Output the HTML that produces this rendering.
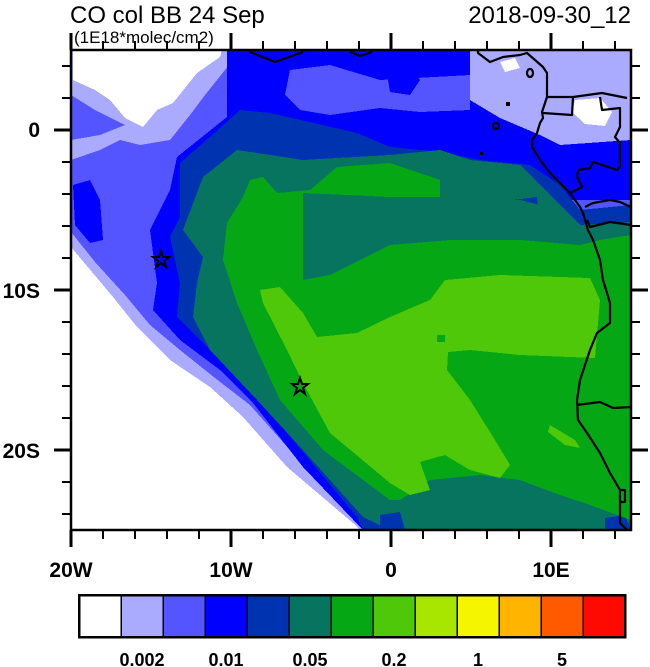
<!DOCTYPE html>
<html><head><meta charset="utf-8"><style>
html,body{margin:0;padding:0;background:#fff;}
svg{display:block;font-family:"Liberation Sans",sans-serif;}
</style></head><body>
<svg width="650" height="667" viewBox="0 0 650 667" xmlns="http://www.w3.org/2000/svg">
<defs><clipPath id="c"><rect x="71" y="50" width="560" height="480"/></clipPath></defs>
<g clip-path="url(#c)" shape-rendering="crispEdges">
<rect x="71" y="50" width="560" height="480" fill="#5555ff"/>
<polygon fill="#aaaaff" points="470,50 631,50 631,140 560,145 540,135 500,118 470,100"/>
<polygon fill="#fff" points="575,100 600,98 612,112 605,126 585,124 572,112"/>
<polygon fill="#fff" points="500,62 515,58 520,68 505,72"/>
<polygon fill="#aaaaff" points="71,50 240,50 225,70 205,95 190,115 170,140 140,145 120,140 100,150 71,160"/>
<polygon fill="#5555ff" points="71,95 95,110 125,125 100,135 71,140"/>
<polygon fill="#fff" points="73,50 222,50 220,57 197,73 173,103 157,110 143,127 125,118 110,100 95,90 73,80"/>
<polygon fill="#aaaaff" points="71,232 95,262 125,295 150,325 180,350 215,378 250,405 290,450 330,490 370,530 71,530"/>
<polygon fill="#fff" points="71,247 113,297 137,327 170,360 210,387 243,417 287,467 353,523 360,530 71,530"/>
<polygon fill="#0000ff" points="227,50 470,50 470,100 500,118 540,135 560,145 631,140 631,200 560,200 530,180 390,175 300,170 230,180 203,230 200,300 240,370 290,430 340,490 380,530 363,530 303,467 253,403 220,370 180,340 153,310 157,283 150,230 170,190 177,157 227,117"/>
<polygon fill="#5555ff" points="290,70 330,65 380,80 470,75 470,110 420,112 380,108 330,115 300,110 285,95"/>
<polygon fill="#0000ff" points="385,62 405,60 420,80 410,95 390,92"/>
<polygon fill="#0000ff" points="73,185 90,180 100,200 103,240 90,243 75,225"/>
<polygon fill="#0033b0" points="240,110 270,113 357,133 390,147 440,152 480,160 530,165 560,185 580,210 631,205 631,240 560,240 500,220 390,200 300,195 230,210 215,260 220,300 250,360 300,420 350,480 390,530 363,530 357,517 287,433 243,380 203,343 177,317 180,283 170,237 180,217 180,163 210,137"/>
<polygon fill="#06745f" points="237,150 303,160 390,155 440,150 470,160 520,165 545,190 570,215 580,225 631,222 631,530 390,530 363,517 303,450 257,400 210,350 193,317 197,283 203,257 183,230 203,177"/>
<polygon fill="#0033b0" points="513,200 537,197 540,225 520,228"/>
<polygon fill="#0033b0" points="380,515 400,512 405,530 380,530"/>
<polygon fill="#0033b0" points="605,518 625,515 631,530 605,530"/>
<polygon fill="#05a814" points="250,180 263,177 277,193 310,190 337,167 390,163 440,180 440,197 390,200 303,195 303,280 390,245 450,240 520,240 580,245 600,240 631,235 631,520 590,505 560,495 520,480 480,475 430,480 400,500 390,500 323,450 280,400 257,350 237,303 223,260 227,223 243,197"/>
<polygon fill="#06745f" points="303,193 390,197 440,197 520,200 560,210 590,240 520,240 450,240 390,245 330,275 303,280"/>
<polygon fill="#50c80a" points="260,290 280,287 303,313 317,337 357,333 390,317 430,300 445,280 500,275 590,278 600,300 595,358 520,355 470,350 448,352 447,370 470,400 495,440 510,465 500,478 470,470 445,455 420,462 430,490 410,495 390,483 330,433 303,383 287,350 263,303"/>
<polygon fill="#05a814" points="437,335 445,335 445,342 437,342"/>
<polygon fill="#50c80a" points="550,425 575,440 580,448 565,445 548,432"/>
</g>
<g fill="none" stroke="#000" stroke-width="2.2" stroke-linejoin="round" clip-path="url(#c)">
<polyline points="478,50 478,53 490,62 503,57 520,55 527,53 535,60 543,67 547,73 547,97 545,103 542,112 543,118 540,123 537,133 532,140 532,147 540,160 550,173 560,183 570,193 580,207 583,213 585,220 588,230 593,240 600,260 603,280 610,303 610,323 597,333 590,350 580,380 577,400 578,420 587,433 600,453 610,473 620,490 620,523 627,530"/>
<polyline points="547,97 573,97 572,115 543,113"/>
<polyline points="573,97 602,93 627,98"/>
<polyline points="600,97 602,110 620,108 620,127 615,137 620,143 620,167 617,170 593,162 590,168 578,170 577,177 582,187 570,193"/>
<polyline points="585,207 593,203 610,200 620,202 631,207"/>
<polyline points="587,220 590,227 610,222 631,225"/>
<polyline points="577,405 600,402 613,408 631,407"/>
<polyline points="620,490 625,490 625,502 620,502"/>
<polyline points="250,52 275,62 303,52"/>
<polyline points="350,52 360,56 372,52"/>
<ellipse cx="530" cy="73" rx="3" ry="4"/>
<ellipse cx="496" cy="126" rx="3" ry="3"/>
</g>
<rect x="506" y="102" width="4" height="4" fill="#000"/>
<rect x="480" y="152" width="3" height="3" fill="#000"/>
<g fill="none" stroke="#000" stroke-width="2">
<polygon points="161,251 163,257 169,257 164,261 166,267 161,263 156,267 158,261 153,257 159,257"/>
<polygon points="300,378 302,384 308,384 303,388 305,394 300,390 295,394 297,388 292,384 298,384"/>
</g>
<rect x="71" y="50" width="560" height="480" fill="none" stroke="#000" stroke-width="2.5"/>
<g stroke="#000" stroke-width="2">
<path d="M71,530v17M231,530v17M391,530v17M551,530v17M71,50v-17M231,50v-17M391,50v-17M551,50v-17M71,130h-17M71,290h-17M71,450h-17M631,130h17M631,290h17M631,450h17" stroke-width="3"/>
<path d="M103,530v9M135,530v9M167,530v9M199,530v9M263,530v9M295,530v9M327,530v9M359,530v9M423,530v9M455,530v9M487,530v9M519,530v9M583,530v9M615,530v9M103,50v-9M135,50v-9M167,50v-9M199,50v-9M263,50v-9M295,50v-9M327,50v-9M359,50v-9M423,50v-9M455,50v-9M487,50v-9M519,50v-9M583,50v-9M615,50v-9M71,66h-9M71,98h-9M71,162h-9M71,194h-9M71,226h-9M71,258h-9M71,322h-9M71,354h-9M71,386h-9M71,418h-9M71,482h-9M71,514h-9M631,66h9M631,98h9M631,162h9M631,194h9M631,226h9M631,258h9M631,322h9M631,354h9M631,386h9M631,418h9M631,482h9M631,514h9"/>
</g>
<g font-size="21" font-weight="bold" fill="#000">
<text x="40" y="137" text-anchor="end">0</text>
<text x="40" y="298" text-anchor="end">10S</text>
<text x="40" y="458" text-anchor="end">20S</text>
<text x="71" y="577" text-anchor="middle">20W</text>
<text x="231" y="577" text-anchor="middle">10W</text>
<text x="391" y="577" text-anchor="middle">0</text>
<text x="551" y="577" text-anchor="middle">10E</text>
</g>
<text x="70" y="23" font-size="24">CO col BB 24 Sep</text>
<text x="631" y="23" font-size="24" text-anchor="end">2018-09-30_12</text>
<text x="74" y="43" font-size="17">(1E18*molec/cm2)</text>
<g shape-rendering="crispEdges">
<rect x="79" y="595" width="42" height="42" fill="#ffffff"/>
<rect x="121" y="595" width="42" height="42" fill="#aaaaff"/>
<rect x="163" y="595" width="42" height="42" fill="#5555ff"/>
<rect x="205" y="595" width="42" height="42" fill="#0000ff"/>
<rect x="247" y="595" width="42" height="42" fill="#0033b0"/>
<rect x="289" y="595" width="42" height="42" fill="#06745f"/>
<rect x="331" y="595" width="42" height="42" fill="#05a814"/>
<rect x="373" y="595" width="42" height="42" fill="#50c80a"/>
<rect x="415" y="595" width="42" height="42" fill="#a8e600"/>
<rect x="457" y="595" width="42" height="42" fill="#f5f500"/>
<rect x="499" y="595" width="42" height="42" fill="#ffb400"/>
<rect x="541" y="595" width="42" height="42" fill="#ff5a00"/>
<rect x="583" y="595" width="42" height="42" fill="#ff0a00"/>
<path d="M121,595v42M163,595v42M205,595v42M247,595v42M289,595v42M331,595v42M373,595v42M415,595v42M457,595v42M499,595v42M541,595v42M583,595v42" stroke="#000" stroke-width="1.5"/>
<rect x="79" y="595" width="546" height="42" fill="none" stroke="#000" stroke-width="2.5"/>
</g>
<g font-size="18" font-weight="bold" text-anchor="middle">
<text x="142" y="666">0.002</text>
<text x="226" y="666">0.01</text>
<text x="310" y="666">0.05</text>
<text x="394" y="666">0.2</text>
<text x="478" y="666">1</text>
<text x="562" y="666">5</text>
</g>
</svg>
</body></html>
